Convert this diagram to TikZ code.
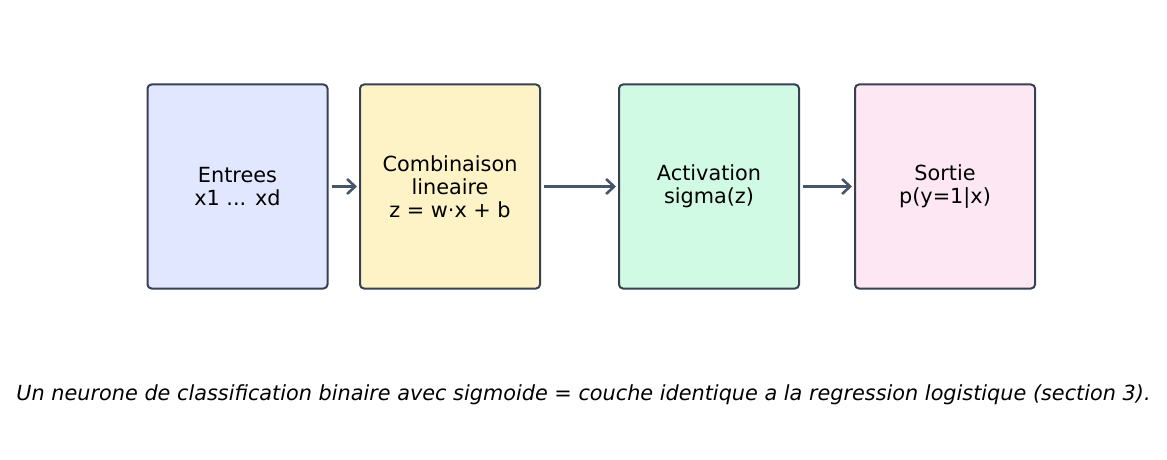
\documentclass[tikz,border=0pt]{standalone}
\usepackage{fontspec}
\setmainfont{DejaVu Sans}
\usetikzlibrary{positioning,arrows.meta}
\definecolor{lineDark}{HTML}{374151}
\definecolor{arrowMid}{HTML}{475569}
\definecolor{fillIn}{HTML}{E0E7FF}
\definecolor{fillLin}{HTML}{FEF3C7}
\definecolor{fillAct}{HTML}{D1FAE5}
\definecolor{fillOut}{HTML}{FCE7F3}

\begin{document}
\begin{tikzpicture}[x=0.5pt,y=-0.5pt,
          every node/.style={font=\fontsize{10.4pt}{11.6pt}\selectfont,
                             text=black,align=center},
          stage/.style={draw=lineDark,line width=1pt,rounded corners=2pt,
                        minimum width=90pt,minimum height=102pt,
                        inner sep=2pt},
          flow/.style={draw=arrowMid,line width=1.3pt,shorten <=1.5pt,shorten >=1pt,
                       -{Straight Barb[length=4pt,width=7.5pt,line width=1.3pt]}},
        ]
        \useasboundingbox (0,0) rectangle (1167,460);
        \node[stage,fill=fillIn]  (inp) at (237.5,186.5) {Entrees\\x1 ... xd};
        \node[stage,fill=fillLin] (lin) at (450,186.5) {Combinaison\\lineaire\\z = w·x + b};
        \node[stage,fill=fillAct] (act) at (709,186.5) {Activation\\sigma(z)};
        \node[stage,fill=fillOut] (out) at (945,186.5) {Sortie\\p(y=1|x)};
        \draw[flow] (inp) -- (lin);
        \draw[flow] (lin) -- (act);
        \draw[flow] (act) -- (out);
        \node[font=\fontsize{10.4pt}{11.6pt}\selectfont\itshape] (caption) at (583.5,395)
          {Un neurone de classification binaire avec sigmoide = couche identique a la regression logistique (section 3).};
      \end{tikzpicture}
\end{document}
